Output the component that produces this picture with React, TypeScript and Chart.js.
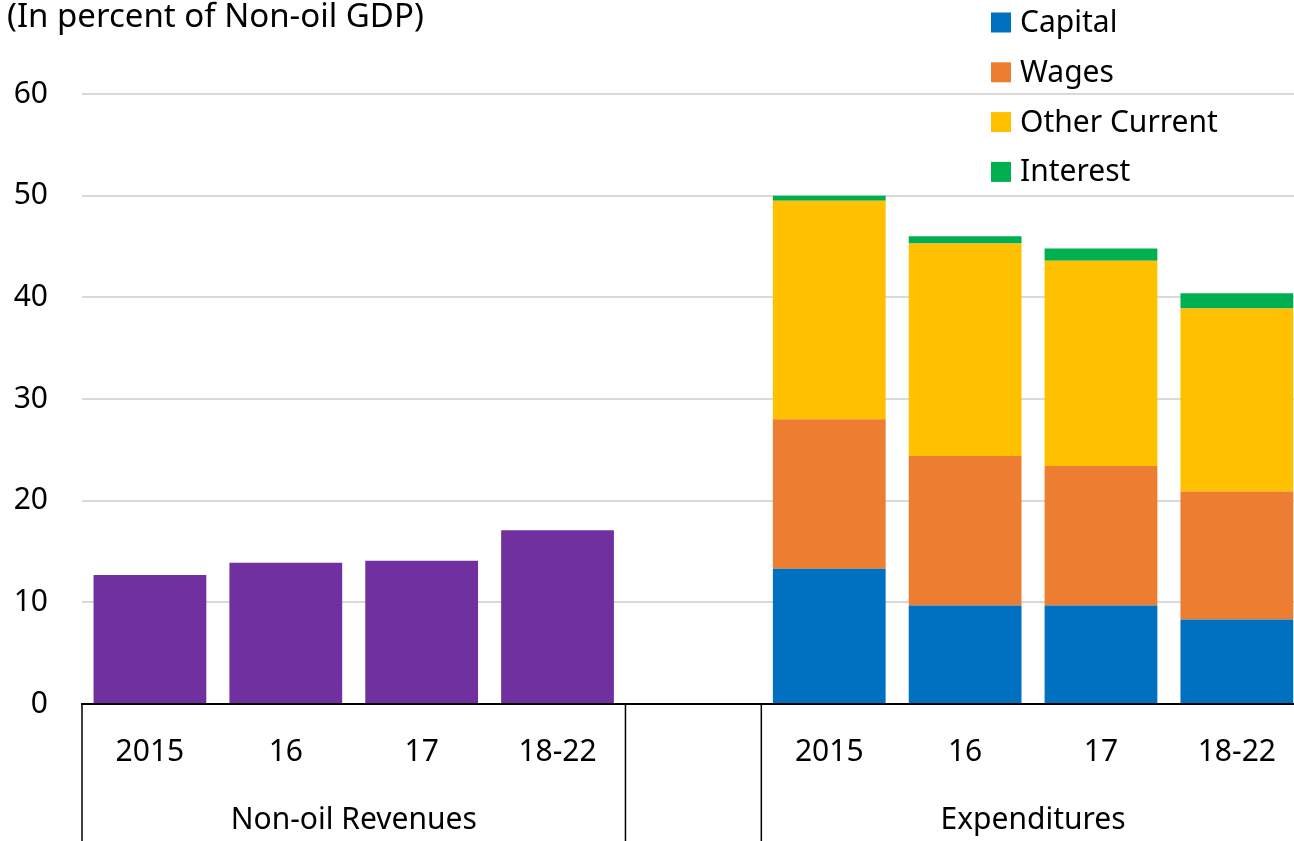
import React, { useEffect, useRef } from "react";
import { Chart, registerables } from "chart.js";

Chart.register(...registerables);

const FONT = "'Noto Sans', 'Open Sans', sans-serif";

const TITLE = "(In percent of Non-oil GDP)";
const YEARS = ["2015", "16", "17", "18-22"];
const GROUPS = ["Non-oil Revenues", "Expenditures"];

const revenues = [12.7, 13.9, 14.1, 17.1];
const capital = [13.3, 9.7, 9.7, 8.3];
const wages = [14.7, 14.7, 13.7, 12.6];
const otherCurrent = [21.5, 20.9, 20.2, 18.0];
const interest = [0.5, 0.7, 1.2, 1.5];

const Y_TICKS = [0, 10, 20, 30, 40, 50, 60];

const labels = [...YEARS, "", ...YEARS];
const blank = [null, null, null, null, null];
const revData = [...revenues, ...blank];
const expand = (arr: number[]) => [...blank, ...arr];

const overlayPlugin = {
  id: "overlay",
  afterDraw(chart: any) {
    const ctx = chart.ctx;
    const x = chart.scales.x;
    const ca = chart.chartArea;
    ctx.save();
    // title
    ctx.font = `33px ${FONT}`;
    ctx.fillStyle = "#000";
    ctx.textBaseline = "middle";
    ctx.textAlign = "left";
    ctx.fillText(TITLE, 7, 18);

    // legend
    ctx.font = `30px ${FONT}`;
    const ds = chart.data.datasets.filter((d: any) => d.inLegend);
    ds.forEach((d: any, i: number) => {
      const cy = 22.5 + i * 49.8;
      ctx.fillStyle = d.backgroundColor;
      ctx.fillRect(991, cy - 10, 20, 20);
      ctx.fillStyle = "#000";
      ctx.fillText(d.label, 1020, cy + 1);
    });

    // separators
    const p = (i: number) => x.getPixelForValue(i);
    const half = (p(1) - p(0)) / 2;
    const seps = [p(0) - half, p(3) + half, p(5) - half, p(8) + half];
    ctx.strokeStyle = "#000";
    ctx.lineWidth = 1.5;
    seps.forEach((sx) => {
      ctx.beginPath();
      ctx.moveTo(sx, ca.bottom);
      ctx.lineTo(sx, chart.height);
      ctx.stroke();
    });

    // group labels
    ctx.textAlign = "center";
    ctx.fillText(GROUPS[0], (p(0) + p(3)) / 2, 820);
    ctx.fillText(GROUPS[1], (p(5) + p(8)) / 2, 820);
    ctx.restore();
  },
};

export default function App() {
  const ref = useRef<HTMLCanvasElement>(null);
  useEffect(() => {
    if (!ref.current) return;
    Chart.defaults.font.family = FONT;
    const chart = new Chart(ref.current, {
      type: "bar",
      data: {
        labels,
        datasets: [
          { label: "Non-oil Revenues", data: revData, backgroundColor: "#7030A0", inLegend: false } as any,
          { label: "Capital", data: expand(capital), backgroundColor: "#0070C0", inLegend: true } as any,
          { label: "Wages", data: expand(wages), backgroundColor: "#ED7D31", inLegend: true } as any,
          { label: "Other Current", data: expand(otherCurrent), backgroundColor: "#FFC000", inLegend: true } as any,
          { label: "Interest", data: expand(interest), backgroundColor: "#00B050", inLegend: true } as any,
        ],
      },
      options: {
        responsive: false,
        animation: false,
        devicePixelRatio: 1,
        datasets: { bar: { categoryPercentage: 1, barPercentage: 0.83 } },
        layout: { padding: { top: 94, right: 0, left: 0, bottom: 0 } },
        plugins: { legend: { display: false }, tooltip: { enabled: false }, title: { display: false } },
        scales: {
          x: {
            stacked: true,
            grid: { display: false, drawTicks: false },
            border: { display: true, color: "#000", width: 2 },
            ticks: { color: "#000", font: { size: 30 }, padding: 30, maxRotation: 0, autoSkip: false },
            afterFit: (s: any) => {
              s.height = 137;
            },
          },
          y: {
            stacked: true,
            min: Y_TICKS[0],
            max: Y_TICKS[Y_TICKS.length - 1],
            grid: { color: "#d9d9d9", lineWidth: 2, drawTicks: false },
            border: { display: false },
            ticks: { stepSize: 10, color: "#000", font: { size: 30 }, padding: 34 },
            afterFit: (s: any) => {
              s.width = 82;
            },
          },
        },
      },
      plugins: [overlayPlugin],
    } as any);
    return () => chart.destroy();
  }, []);
  return (
    <div style={{ position: "fixed", left: 0, top: 0, width: 1294, height: 841, overflow: "hidden", background: "#fff" }}>
      <canvas ref={ref} width={1306} height={841} style={{ display: "block" }} />
    </div>
  );
}
